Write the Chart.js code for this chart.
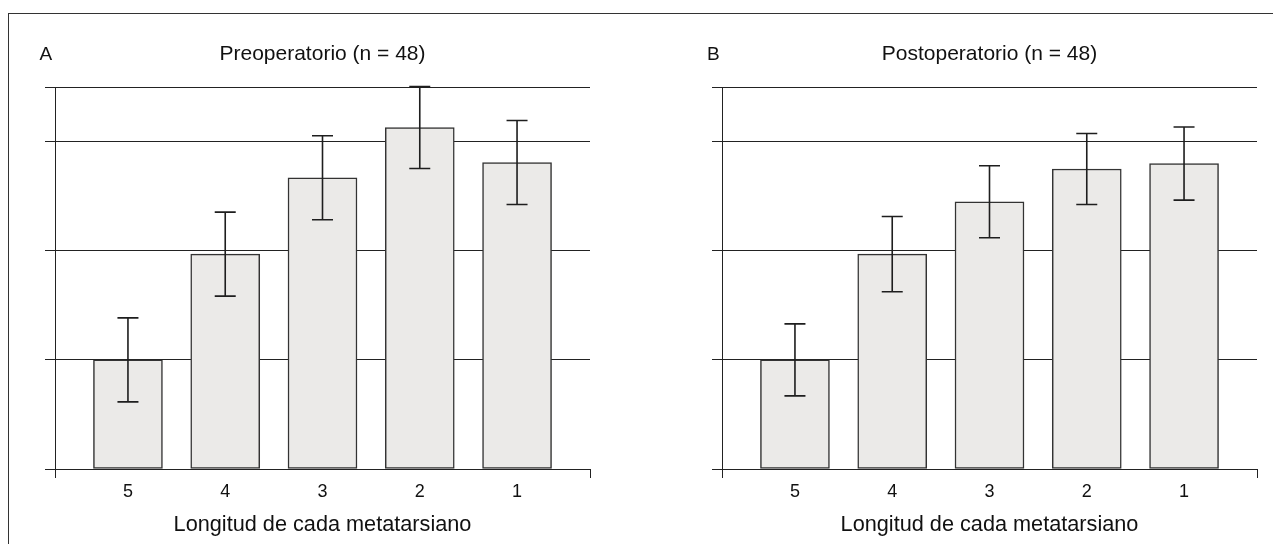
<!DOCTYPE html>
<html><head><meta charset="utf-8">
<script src="https://cdn.jsdelivr.net/npm/chart.js@4/dist/chart.umd.min.js"></script>
<style>
html,body{margin:0;padding:0;background:#fff;}
#wrap{position:relative;width:1273px;height:544px;overflow:hidden;background:#fff;}
#frame{position:absolute;left:8px;top:13px;width:1400px;height:700px;border-top:1px solid #333;border-left:1px solid #333;}
.pane{position:absolute;top:0;}
</style></head><body>
<div id="wrap">
<div id="frame"></div>
<div class="pane" style="left:0;width:640px;height:544px"><canvas id="ca" width="640" height="544"></canvas></div>
<div class="pane" style="left:640px;width:633px;height:544px"><canvas id="cb" width="633" height="544"></canvas></div>
</div>
<script>
const categories = ['5', '4', '3', '2', '1'];
const preMeans   = [1.00, 1.97, 2.67, 3.13, 2.81];
const preErrors  = [0.385, 0.385, 0.385, 0.375, 0.385];
const postMeans  = [1.00, 1.97, 2.45, 2.75, 2.80];
const postErrors = [0.33, 0.345, 0.33, 0.325, 0.335];
const yTicks = [0, 1, 2, 3, 3.5];
const xMin = 0.25, xMax = 5.75;
const FF = '"Liberation Sans", Arial, Helvetica, sans-serif';
const positions = categories.map((c, i) => i + 1);

const errorBars = {
  id: 'errorBars',
  afterDatasetsDraw(chart) {
    const ds = chart.data.datasets[0];
    const xs = chart.scales.x, ys = chart.scales.y;
    const ctx = chart.ctx;
    ctx.save();
    ctx.strokeStyle = '#1e1e1e';
    ctx.lineWidth = 1.6;
    ds.data.forEach((p, i) => {
      const e = ds.errors[i];
      const x = xs.getPixelForValue(p.x);
      const yt = ys.getPixelForValue(p.y + e);
      const yb = ys.getPixelForValue(p.y - e);
      ctx.beginPath();
      ctx.moveTo(x, yt); ctx.lineTo(x, yb);
      ctx.moveTo(x - 10.5, yt); ctx.lineTo(x + 10.5, yt);
      ctx.moveTo(x - 10.5, yb); ctx.lineTo(x + 10.5, yb);
      ctx.stroke();
    });
    ctx.restore();
  }
};

const panelLetter = {
  id: 'panelLetter',
  afterDraw(chart, args, opts) {
    const ctx = chart.ctx;
    ctx.save();
    ctx.fillStyle = '#111';
    ctx.font = '19px ' + FF;
    ctx.textBaseline = 'alphabetic';
    ctx.fillText(opts.text, opts.x, opts.y);
    ctx.restore();
  }
};

function makeChart(id, letter, letterX, title, means, errs, leftW, rightPad) {
  return new Chart(document.getElementById(id), {
    type: 'bar',
    data: {
      datasets: [{
        data: positions.map((x, i) => ({ x: x, y: means[i] })),
        errors: errs,
        backgroundColor: '#ebeae8',
        borderColor: '#333',
        borderWidth: 1.5,
        borderSkipped: false,
        barThickness: 69
      }]
    },
    options: {
      responsive: false,
      animation: false,
      layout: { padding: { left: 0, right: rightPad, top: 0, bottom: 0 } },
      plugins: {
        legend: { display: false },
        tooltip: { enabled: false },
        title: {
          display: true, text: title, fullSize: false, color: '#111',
          font: { size: 21, family: FF, weight: 'normal' },
          padding: { top: 42, bottom: 20 }
        },
        panelLetter: { text: letter, x: letterX, y: 60 }
      },
      scales: {
        x: {
          type: 'linear', min: xMin, max: xMax, offset: false,
          afterBuildTicks: s => { s.ticks = [xMin, ...positions, xMax].map(v => ({ value: v })); },
          ticks: {
            autoSkip: false, maxRotation: 0, padding: 3, color: '#111',
            font: { size: 18, family: FF },
            callback: v => { const i = positions.indexOf(v); return i >= 0 ? categories[i] : ''; }
          },
          grid: {
            offset: false,
            drawOnChartArea: false, drawTicks: true, tickLength: 9, lineWidth: 1,
            color: c => (c.tick && Number.isInteger(c.tick.value)) ? 'rgba(0,0,0,0)' : '#222'
          },
          border: { display: true, color: '#222', width: 1 },
          title: {
            display: true, text: 'Longitud de cada metatarsiano', color: '#111',
            font: { size: 21.7, family: FF }, padding: { top: 0, bottom: 6 }
          },
          afterFit: s => { s.height = 75; }
        },
        y: {
          min: 0, max: 3.5,
          afterBuildTicks: s => { s.ticks = yTicks.map(v => ({ value: v })); },
          ticks: { display: false },
          grid: { color: '#222', lineWidth: 1, drawTicks: true, tickLength: 10 },
          border: { display: true, color: '#222', width: 1 },
          afterFit: s => { s.width = leftW; }
        }
      }
    },
    plugins: [errorBars, panelLetter]
  });
}

makeChart('ca', 'A', 39.5, 'Preoperatorio (n = 48)', preMeans, preErrors, 55, 50);
makeChart('cb', 'B', 67, 'Postoperatorio (n = 48)', postMeans, postErrors, 82, 16);
</script>
</body></html>
